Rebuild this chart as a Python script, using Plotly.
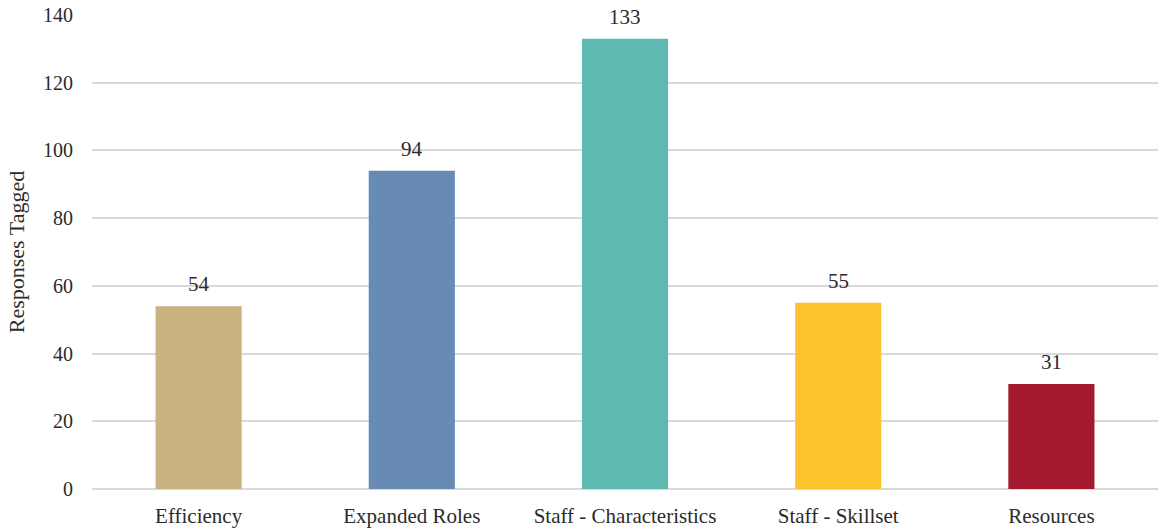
import plotly.graph_objects as go

categories = ["Efficiency", "Expanded Roles", "Staff - Characteristics", "Staff - Skillset", "Resources"]
responses = [54, 94, 133, 55, 31]
bar_colors = ["#C9B481", "#678BB2", "#5EB9B0", "#FDC42E", "#A3192E"]
y_ticks = [0, 20, 40, 60, 80, 100, 120, 140]

font_family = "Liberation Serif, DejaVu Serif, serif"
text_color = "#2B2B2B"

fig = go.Figure(
    go.Bar(
        x=categories,
        y=responses,
        marker=dict(color=bar_colors, line=dict(width=0)),
        hoverinfo="skip",
    )
)

# value labels sitting above each bar
for cat, val in zip(categories, responses):
    fig.add_annotation(
        x=cat, y=val, text=str(val), showarrow=False,
        yanchor="bottom", yshift=8,
        font=dict(family=font_family, size=21, color=text_color),
    )

fig.update_layout(
    width=1162, height=529,
    margin=dict(l=92, r=4, t=15, b=40),
    paper_bgcolor="white", plot_bgcolor="white",
    bargap=0.596,
    showlegend=False,
    font=dict(family=font_family, size=20, color=text_color),
)
fig.update_xaxes(
    showgrid=False, showline=False, ticks="",
    tickfont=dict(family=font_family, size=21, color=text_color),
    ticklabelstandoff=12,
    automargin=False,
)
fig.update_yaxes(
    range=[0, 140], tickvals=y_ticks,
    showgrid=True, gridcolor="#D9D9D9", gridwidth=1.5,
    zeroline=True, zerolinecolor="#D9D9D9", zerolinewidth=1.5,
    showline=False, ticks="",
    tickfont=dict(family=font_family, size=20, color=text_color),
    ticklabelstandoff=18,
    automargin=False,
    title=dict(text="Responses Tagged", font=dict(family=font_family, size=22, color=text_color), standoff=12),
)

fig.write_html("out.html")
